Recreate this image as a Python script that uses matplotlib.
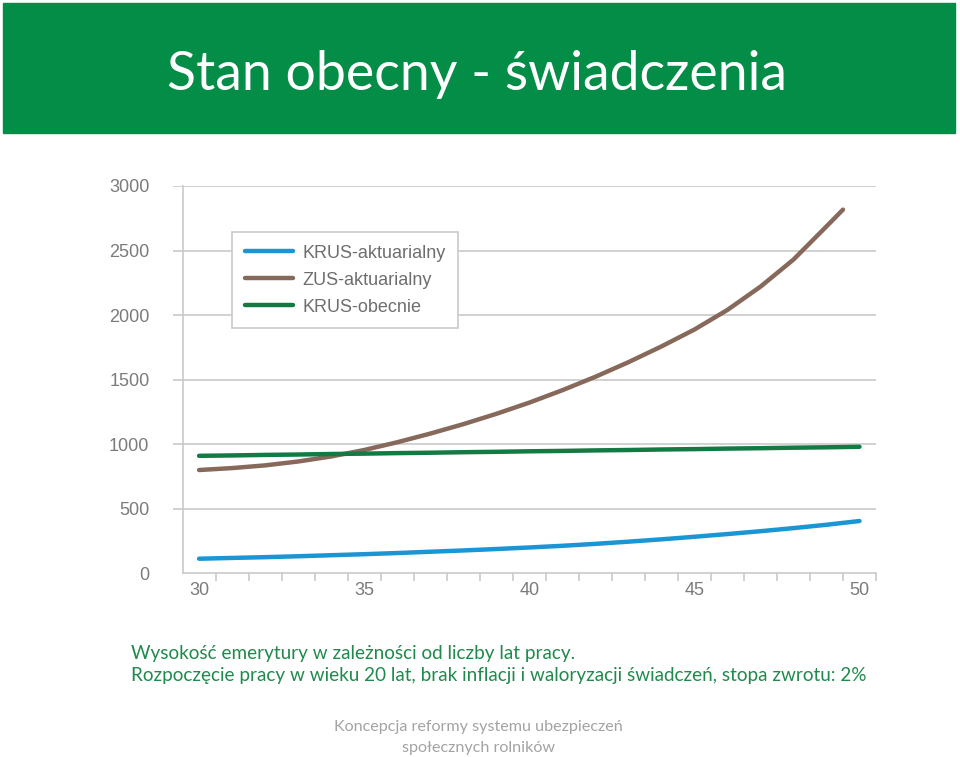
import matplotlib
matplotlib.use("Agg")
import matplotlib.pyplot as plt
from matplotlib.patches import Rectangle

# data
ages = [30, 31, 32, 33, 34, 35, 36, 37, 38, 39, 40,
        41, 42, 43, 44, 45, 46, 47, 48, 49, 50]
krus_akt = [113, 119, 125, 132, 140, 148, 157, 167, 177, 188, 200,
            213, 228, 245, 263, 283, 304, 326, 350, 376, 405]
zus_ages = [30, 31, 32, 33, 34, 35, 36, 37, 38, 39, 40,
            41, 42, 43, 44, 45, 46, 47, 48, 49, 49.5]
zus_akt = [800, 815, 836, 866, 905, 955, 1015, 1082, 1155, 1235, 1322,
           1418, 1522, 1635, 1757, 1888, 2040, 2220, 2430, 2687, 2817]
krus_obecnie = [910, 913, 917, 920, 924, 927, 931, 934, 938, 941, 945,
                948, 952, 955, 959, 962, 966, 969, 973, 976, 980]

series_names = ["KRUS-aktuarialny", "ZUS-aktuarialny", "KRUS-obecnie"]
colors = ["#1b96d4", "#86695b", "#137a44"]
y_ticks = [0, 500, 1000, 1500, 2000, 2500, 3000]
x_labels = [30, 35, 40, 45, 50]

title = "Stan obecny - świadczenia"
caption1 = "Wysokość emerytury w zależności od liczby lat pracy."
caption2 = ("Rozpoczęcie pracy w wieku 20 lat, brak inflacji i waloryzacji "
            "świadczeń, stopa zwrotu: 2%")
footer1 = "Koncepcja reformy systemu ubezpieczeń"
footer2 = "społecznych rolników"

W, H = 960, 757
fig = plt.figure(figsize=(W / 100, H / 100), dpi=100)
slide_font = ["Lato", "DejaVu Sans"]
chart_font = ["Liberation Sans", "DejaVu Sans"]
grey = "#c9c9c9"
label_col = "#7b7b7b"

# green header band
fig.patches.append(Rectangle((3 / W, 1 - 133 / H), 952 / W, 130 / H,
                             transform=fig.transFigure, color="#038d46", zorder=0))
fig.text(477 / W, 1 - 90 / H, title, ha="center", va="baseline",
         color="white", fontsize=38.6, family=slide_font)

# chart area: x from 29.21 (px 173) to 50.5 (px 876), y 0..3000 (px 573..186)
ax = fig.add_axes([173 / W, 1 - 573.3 / H, 703 / W, 387.3 / H])
ax.set_xlim(29.21, 50.5)
ax.set_ylim(0, 3000)
for s in ax.spines.values():
    s.set_visible(False)

for v in y_ticks[1:]:
    ax.axhline(v, color=grey, lw=1.2, zorder=1)
ax.plot([29.5, 29.5], [0, 3000], color=grey, lw=1.2, zorder=1, clip_on=False)
ax.plot([29.5, 50.5], [0, 0], color=grey, lw=1.2, zorder=1, clip_on=False)

ax.plot(ages, krus_akt, color=colors[0], lw=3.2, label=series_names[0],
        solid_capstyle="round", solid_joinstyle="round", zorder=3)
ax.plot(zus_ages, zus_akt, color=colors[1], lw=3.2, label=series_names[1],
        solid_capstyle="round", solid_joinstyle="round", zorder=3)
ax.plot(ages, krus_obecnie, color=colors[2], lw=3.2, label=series_names[2],
        solid_capstyle="round", solid_joinstyle="round", zorder=3)

ax.set_yticks(y_ticks)
ax.set_yticklabels([str(v) for v in y_ticks])
ax.set_xticks(x_labels)
ax.set_xticklabels([str(v) for v in x_labels])
ax.set_xticks([a + 0.5 for a in ages], minor=True)
ax.tick_params(axis="y", length=0, pad=17, labelsize=13, labelcolor=label_col)
ax.tick_params(axis="x", which="major", length=0, pad=6, labelsize=13,
               labelcolor=label_col)
ax.tick_params(axis="x", which="minor", length=6, width=1.2, color=grey,
               direction="out")
ax.tick_params(axis="y", which="minor", length=0)
for lab in ax.get_xticklabels() + ax.get_yticklabels():
    lab.set_family(chart_font)

leg = ax.legend(loc="upper left", bbox_to_anchor=((232 - 173) / 703, (573.3 - 232) / 387.3),
                frameon=True, fancybox=False, framealpha=1, edgecolor=grey,
                prop={"family": chart_font, "size": 13}, handlelength=2.7,
                labelspacing=0.55, borderpad=0.7, handletextpad=0.5,
                borderaxespad=0)
leg.get_frame().set_linewidth(1.2)
for t in leg.get_texts():
    t.set_color("#6e6e6e")

# caption and footer
cap_col = "#1f8a4c"
fig.text(131 / W, 1 - 659 / H, caption1, ha="left", va="baseline",
         color=cap_col, fontsize=13.6, family=slide_font)
fig.text(131 / W, 1 - 681 / H, caption2, ha="left", va="baseline",
         color=cap_col, fontsize=13.6, family=slide_font)
fig.text(478 / W, 1 - 731 / H, footer1, ha="center", va="baseline",
         color="#a3a3a3", fontsize=11.6, family=slide_font)
fig.text(478 / W, 1 - 752 / H, footer2, ha="center", va="baseline",
         color="#a3a3a3", fontsize=11.6, family=slide_font)

fig.savefig("out.png", dpi=100, facecolor="white")
